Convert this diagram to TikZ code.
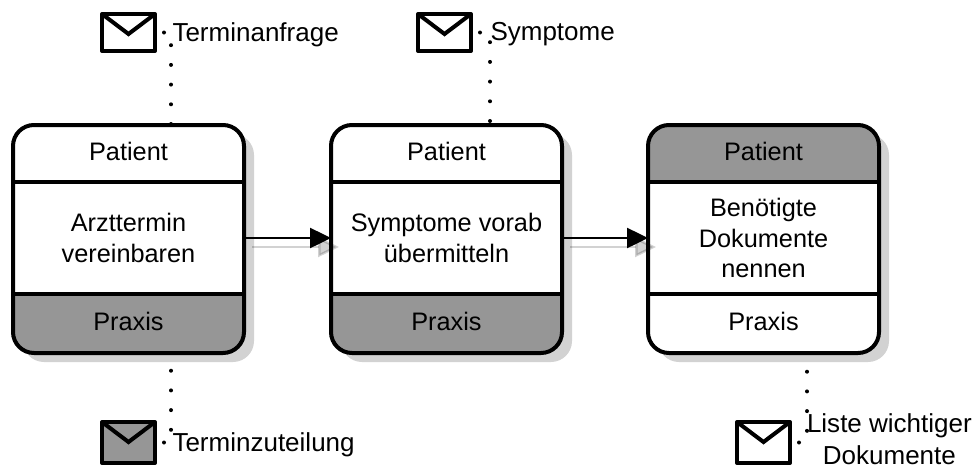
\documentclass[tikz,border=0pt]{standalone}
\usepackage{fontspec}
\setmainfont{Liberation Sans}
\usetikzlibrary{positioning,shadows,arrows.meta}
\definecolor{bandgray}{HTML}{969696}
\definecolor{shadowgray}{HTML}{D2D2D2}
\tikzset{
  cardbox/.style={draw, line width=.08cm, rounded corners=.42cm, fill=white, outer sep=0pt,
    minimum width=4.62cm, minimum height=4.56cm,
    drop shadow={shadow xshift=.2cm, shadow yshift=-.18cm, fill=shadowgray, opacity=1}},
  topband/.style={path picture={\fill[bandgray, sharp corners] (path picture bounding box.north west) rectangle ([yshift=-1.14cm]path picture bounding box.north east);}},
  lowband/.style={path picture={\fill[bandgray, sharp corners] (path picture bounding box.south west) rectangle ([yshift=1.18cm]path picture bounding box.south east);}},
  headcell/.style={outer sep=0pt, inner sep=0pt, minimum width=4.62cm, minimum height=1.14cm, cardtext, text height=.36cm, text depth=.08cm},
  midcell/.style={outer sep=0pt, inner sep=0pt, minimum width=4.62cm, minimum height=2.24cm, cardtext, align=center},
  footcell/.style={outer sep=0pt, inner sep=0pt, minimum width=4.62cm, minimum height=1.18cm, cardtext, text height=.36cm, text depth=.08cm},
  cardtext/.style={font=\fontsize{14.4}{17.2}\selectfont},
  divider/.style={line width=.07cm},
  envelope/.style={draw, line width=.08cm, line join=round, outer sep=0pt, inner sep=0pt, minimum width=1.06cm,
    path picture={\draw[line width=.08cm, line join=miter] (path picture bounding box.north west) -- ([yshift=-.4cm]path picture bounding box.north) -- (path picture bounding box.north east);}},
  msgtext/.style={inner sep=0pt, outer sep=0pt, font=\fontsize{14.8}{17.2}\selectfont, align=center, yshift=-.04cm},
  dotline/.style={line width=.08cm, line cap=round, dash pattern=on 0pt off .394cm, dash phase=.214cm},
  flow/.style={line width=.05cm, -{Triangle[length=.42cm,width=.4cm]}},
  flowshadow/.style={flow, shadowgray, blend mode=multiply}
}
\begin{document}
\begin{tikzpicture}
\useasboundingbox (0,0) rectangle (19.46,9.34);
%% Cards
	\node[cardbox, lowband] (c1) at (2.57,4.56) {};
	\node[headcell, below=0cm of c1.north] (h1) {Patient};
	\node[midcell, below=0cm of h1] (m1) {Arzttermin\\vereinbaren};
	\node[footcell, below=0cm of m1] (f1) {Praxis};

	\node[cardbox, lowband] (c2) at (8.93,4.56) {};
	\node[headcell, below=0cm of c2.north] (h2) {Patient};
	\node[midcell, below=0cm of h2] (m2) {Symptome vorab\\übermitteln};
	\node[footcell, below=0cm of m2] (f2) {Praxis};

	\node[cardbox, topband] (c3) at (15.27,4.56) {};
	\node[headcell, below=0cm of c3.north] (h3) {Patient};
	\node[midcell, below=0cm of h3] (m3) {Benötigte\\Dokumente\\nennen};
	\node[footcell, below=0cm of m3] (f3) {Praxis};
%Dividers
	\draw[divider] (h1.south west) -- (h1.south east);
	\draw[divider] (m1.south west) -- (m1.south east);
	\draw[divider] (h2.south west) -- (h2.south east);
	\draw[divider] (m2.south west) -- (m2.south east);
	\draw[divider] (h3.south west) -- (h3.south east);
	\draw[divider] (m3.south west) -- (m3.south east);
%% Messages
	\node[envelope, minimum height=.74cm] (e1) at (2.57,8.69) {};
	\node[envelope, minimum height=.74cm] (e2) at (8.89,8.69) {};
	\node[envelope, minimum height=.82cm, fill=bandgray] (e3) at (2.57,.49) {};
	\node[envelope, minimum height=.82cm] (e4) at (15.27,.49) {};
	\node[msgtext, right=.35cm of e1] (t1) {Terminanfrage};
	\node[msgtext, right=.39cm of e2] (t2) {Symptome};
	\node[msgtext, right=.35cm of e3] (t3) {Terminzuteilung};
	\node[msgtext, right=.34cm of e4, yshift=.1cm] (t4) {Liste wichtiger\\[.03cm]Dokumente};
%Edges
	\draw[dotline] (e1.east) -| ([xshift=.85cm]c1.north);
	\draw[dotline] (e2.east) -| ([xshift=.87cm]c2.north);
	\draw[dotline] (e3.east) -| ([xshift=.85cm]c1.south);
	\draw[dotline] (e4.east) -| ([xshift=.87cm]c3.south);

	\draw[flowshadow] ([shift={(.16,-.18)}]m1.east) -- ([shift={(.16,-.18)}]m2.west);
	\draw[flowshadow] ([shift={(.16,-.18)}]m2.east) -- ([shift={(.16,-.18)}]m3.west);
	\draw[flow] (m1.east) -- (m2.west);
	\draw[flow] (m2.east) -- (m3.west);
\end{tikzpicture}
\end{document}
